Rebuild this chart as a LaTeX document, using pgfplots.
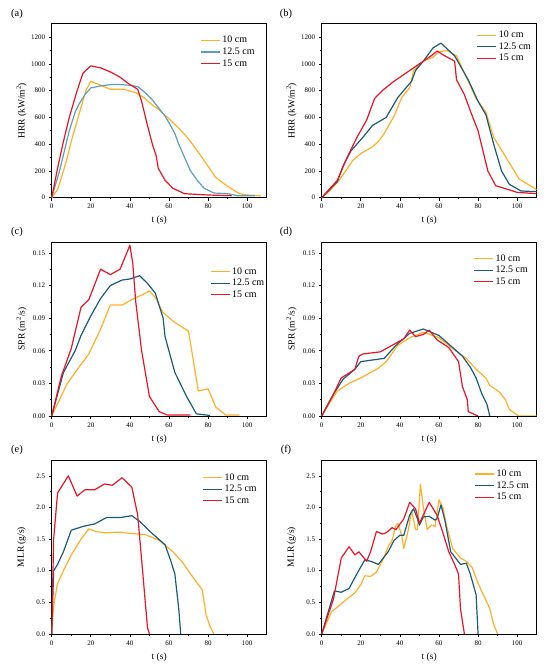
\documentclass[border=0pt]{standalone}
\usepackage{fontspec}
\setmainfont{Liberation Serif}
\usepackage{pgfplots}
\pgfplotsset{compat=1.18}
\definecolor{cor}{RGB}{255,176,40}
\definecolor{clb}{RGB}{94,158,186}
\definecolor{ctl}{RGB}{29,90,120}
\definecolor{crd}{RGB}{232,20,40}
\pgfplotsset{
  legend image code/.code={\draw[#1] (0bp,0bp) -- (19bp,0bp);},
  panel/.style={
    scale only axis, width=215bp, height=174bp, anchor=south west,
    xmin=0, xmax=110, xtick={0,20,...,100}, minor x tick num=1,
    tick align=outside, xtick pos=bottom, ytick pos=left,
    major tick length=3bp, minor tick length=1.8bp,
    tick style={black, line width=0.6pt},
    axis line style={line width=0.6pt},
    ticklabel style={font=\fontsize{7}{8}\selectfont},
    label style={font=\fontsize{9.5}{11}\selectfont},
    xlabel={t (s)},
    xlabel style={at={(axis description cs:0.5,0)}, anchor=center, yshift=-23bp},
    ylabel style={at={(axis description cs:-0.14,0.5)}, anchor=center},
    legend style={draw=none, fill=none, font=\fontsize{10}{11}\selectfont, anchor=north west, inner sep=0pt, row sep=-0.5pt},
    legend cell align=left,
    every axis plot/.append style={line width=1.2pt, line join=round},
    scaled y ticks=false,
    /pgf/number format/1000 sep={},
    /pgf/number format/assume math mode=true,
  },
  hrr/.style={ymin=0, ymax=1300, ytick={0,200,...,1200}, minor y tick num=1, ylabel={HRR (kW/m\textsuperscript{2})}},
  spr/.style={ymin=0, ymax=0.16, ytick={0,0.03,...,0.151}, minor y tick num=1, ylabel={SPR (m\textsuperscript{2}/s)},
    yticklabel style={/pgf/number format/.cd, fixed, fixed zerofill, precision=2}},
  mlr/.style={ymin=0, ymax=2.75, ytick={0,0.5,...,2.51}, minor y tick num=1, ylabel={MLR (g/s)},
    yticklabel style={/pgf/number format/.cd, fixed, fixed zerofill, precision=1}},
}
\begin{document}
\begin{tikzpicture}
\path[use as bounding box] (0bp,0bp) rectangle (550bp,666bp);
% (a)
\begin{axis}[panel, hrr, at={(51.7bp,468.3bp)}, legend style={at={(0.69,0.94)}}]
\addplot[cor] coordinates {(0,0)(3,60)(6,200)(8,300)(10,420)(13.5,600)(17.5,800)(20,870)(25,840)(30,810)(37,810)(43,785)(47,750)(50,710)(55,655)(60,590)(65,520)(70,440)(75,340)(80,235)(84,150)(90,85)(96,30)(100,20)(107,15)};
\addplot[clb] coordinates {(0,0)(4,200)(7,380)(9,500)(12,640)(14,700)(17,770)(20,820)(25,835)(30,845)(35,845)(40,840)(44,830)(47,795)(51,740)(55,665)(58,610)(60,560)(63,480)(65,400)(68,300)(71,200)(75,120)(78,70)(83,35)(90,30)(95,15)(104,15)};
\addplot[crd] coordinates {(0,0)(3,220)(6,420)(9,600)(13,800)(16,930)(20,985)(25,970)(30,940)(35,900)(39,855)(44,810)(46,720)(49,540)(51.5,400)(53.5,310)(54.5,220)(58,130)(62,70)(68,30)(80,20)(92,15)};
\legend{10 cm, 12.5 cm, 15 cm}
\end{axis}
% (b)
\begin{axis}[panel, hrr, at={(321.7bp,468.3bp)}, legend style={at={(0.72,0.97)}}]
\addplot[cor] coordinates {(0,0)(4,50)(9,130)(16,280)(20,330)(26,380)(29,420)(32,480)(37,610)(41,750)(45,820)(47,950)(52,1020)(57,1050)(60,1090)(64,1100)(69,1060)(74,900)(79,740)(84,640)(88,450)(91,380)(96,260)(101,140)(110,60)};
\addplot[ctl] coordinates {(0,0)(8,120)(11,240)(15,350)(21,450)(26,540)(33,600)(39,750)(46,870)(48,950)(52,1020)(57,1120)(61,1155)(68,1060)(75,880)(80,720)(84,620)(88,400)(92,200)(96,100)(102,50)(110,45)};
\addplot[crd] coordinates {(0,0)(8,130)(13,300)(18,450)(23,580)(27,740)(31,800)(37,870)(43,930)(48,980)(52,1020)(56,1060)(59,1095)(63,1060)(68,1020)(69,880)(73,770)(76,650)(80,500)(82.5,350)(85,200)(89,90)(100,40)(110,30)};
\legend{10 cm, 12.5 cm, 15 cm}
\end{axis}
% (c)
\begin{axis}[panel, spr, at={(51.7bp,250bp)}, legend style={at={(0.735,0.865)}}]
\addplot[cor] coordinates {(0,0)(4,0.015)(8,0.030)(14,0.045)(19,0.057)(25,0.080)(30,0.102)(36,0.102)(42,0.108)(47,0.112)(50,0.115)(53,0.109)(57,0.095)(63,0.086)(70,0.078)(75,0.023)(80,0.025)(84,0.008)(89,0.001)(96,0.001)};
\addplot[ctl] coordinates {(0,0)(6,0.040)(12,0.060)(15,0.074)(20,0.092)(25,0.108)(30,0.120)(36,0.125)(40,0.126)(45,0.129)(49,0.122)(53,0.113)(57,0.090)(58,0.073)(63,0.040)(69,0.018)(74,0.002)(81,0.0005)};
\addplot[crd] coordinates {(0,0)(5,0.037)(10,0.062)(15,0.100)(19,0.107)(25,0.135)(30,0.130)(35,0.135)(40,0.157)(41.5,0.140)(43,0.105)(46,0.060)(50,0.018)(55,0.004)(59,0.001)(71,0.001)};
\legend{10 cm, 12.5 cm, 15 cm}
\end{axis}
% (d)
\begin{axis}[panel, spr, at={(321.7bp,250bp)}, legend style={at={(0.705,0.94)}}]
\addplot[cor] coordinates {(0,0)(4,0.012)(8,0.023)(14,0.030)(20,0.035)(29,0.044)(33,0.050)(39,0.065)(45,0.072)(52,0.077)(60,0.072)(67,0.062)(74,0.053)(79,0.043)(84,0.035)(86,0.028)(91,0.022)(94,0.015)(96,0.006)(100,0.001)(101,0)(110,0)};
\addplot[ctl] coordinates {(0,0)(6,0.020)(11,0.034)(17,0.043)(20,0.050)(32,0.053)(38,0.065)(45,0.076)(52,0.080)(60,0.074)(67,0.063)(72,0.055)(76,0.045)(79,0.035)(82,0.020)(84.5,0.011)(86,0)};
\addplot[crd] coordinates {(0,0)(6,0.020)(10,0.035)(17,0.043)(19,0.055)(21,0.057)(30,0.059)(36,0.065)(42,0.071)(45,0.079)(48,0.073)(52,0.075)(55,0.079)(59,0.070)(65,0.063)(70,0.050)(72,0.027)(74.5,0.015)(75,0.004)(80,0)};
\legend{10 cm, 12.5 cm, 15 cm}
\end{axis}
% (e)
\begin{axis}[panel, mlr, at={(51.7bp,32bp)}, legend style={at={(0.70,0.935)}}]
\addplot[cor] coordinates {(0,0)(1,0.45)(3,0.80)(6,1.00)(10,1.25)(15,1.50)(19,1.66)(23,1.62)(27,1.60)(35,1.61)(40,1.59)(48,1.57)(55,1.48)(62,1.30)(67,1.13)(71,0.95)(77,0.70)(79,0.30)(81,0.12)(83,0)};
\addplot[ctl] coordinates {(0,0)(1,1.00)(3,1.10)(6,1.30)(10,1.64)(16,1.70)(22,1.74)(28,1.84)(35,1.84)(41,1.87)(45,1.78)(51,1.60)(58,1.41)(61,1.15)(63,0.95)(65,0.40)(66,0)};
\addplot[crd] coordinates {(0,0)(1,1.50)(3,2.23)(8.5,2.50)(13,2.18)(17,2.28)(22,2.28)(27,2.37)(31,2.35)(36,2.47)(41,2.32)(44,1.88)(46.5,1.00)(49,0.10)(50,0)};
\legend{10 cm, 12.5 cm, 15 cm}
\end{axis}
% (f)
\begin{axis}[panel, mlr, at={(321.7bp,32bp)}, legend style={at={(0.71,0.955)}}]
\addplot[cor] coordinates {(0,0)(5,0.35)(9,0.45)(14,0.58)(17,0.65)(20,0.78)(22,0.92)(25,0.91)(28,0.98)(31,1.15)(34,1.38)(36,1.48)(38,1.72)(39,1.75)(41,1.55)(42,1.35)(44,1.60)(46,1.95)(48,1.65)(49,1.65)(50.5,2.37)(52,2.00)(54,1.65)(56,1.72)(58,1.70)(60,2.12)(62,2.00)(64,1.70)(67,1.35)(71,1.20)(74,1.15)(77,1.05)(80,0.80)(83,0.60)(86,0.40)(88,0.15)(90,0)};
\addplot[ctl] coordinates {(0,0)(6.5,0.68)(10,0.66)(14,0.72)(18,0.95)(22,1.17)(25,1.15)(29,1.10)(34,1.30)(37,1.48)(40,1.56)(42,1.56)(45,1.88)(47,1.98)(49,1.82)(50,1.72)(52,1.85)(55,1.86)(58,1.80)(59,1.82)(61,2.04)(63,1.80)(66,1.30)(71,1.10)(74,1.12)(76,0.95)(79,0.62)(80,0)};
\addplot[crd] coordinates {(0,0)(6,0.55)(10,1.20)(14,1.38)(17,1.25)(19,1.30)(23,1.15)(25,1.30)(28,1.62)(31,1.58)(33,1.60)(36,1.68)(38,1.65)(42,1.82)(45,2.08)(48,1.98)(50,1.75)(55,2.08)(59,1.88)(62,1.60)(65,1.30)(68,1.10)(70,0.95)(71,0.40)(72.5,0.10)(73,0)};
\legend{10 cm, 12.5 cm, 15 cm}
\end{axis}
\node[font=\fontsize{10.5}{12}\selectfont] at (17bp,652bp) {(a)};
\node[font=\fontsize{10.5}{12}\selectfont] at (286bp,652bp) {(b)};
\node[font=\fontsize{10.5}{12}\selectfont] at (17bp,434bp) {(c)};
\node[font=\fontsize{10.5}{12}\selectfont] at (286bp,434bp) {(d)};
\node[font=\fontsize{10.5}{12}\selectfont] at (17bp,216.5bp) {(e)};
\node[font=\fontsize{10.5}{12}\selectfont] at (286bp,216.5bp) {(f)};
\end{tikzpicture}
\end{document}
